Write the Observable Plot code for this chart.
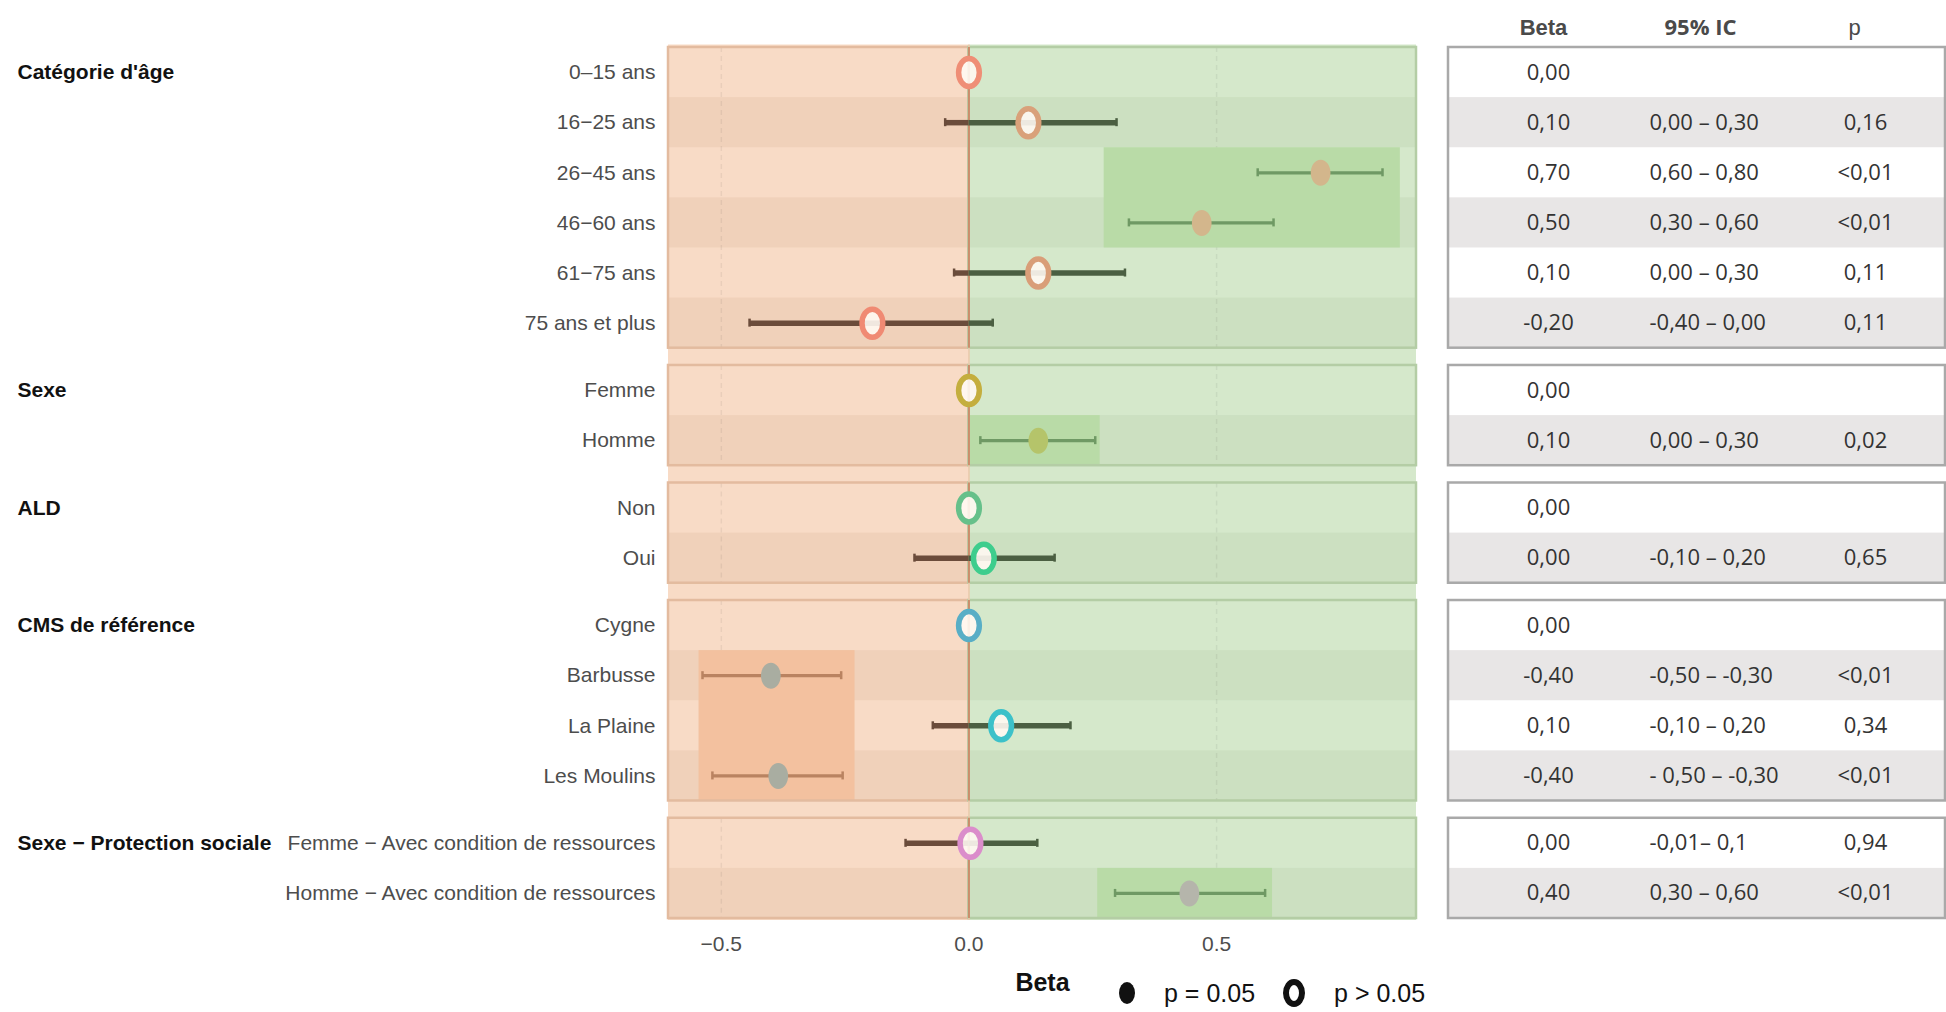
<!DOCTYPE html>
<html><head><meta charset="utf-8">
<script src="https://cdn.jsdelivr.net/npm/d3@7"></script>
<script src="https://cdn.jsdelivr.net/npm/@observablehq/plot@0.6"></script>
<style>
body{margin:0;background:#fff;}
#wrap{position:relative;width:1946px;height:1012px;overflow:hidden;font-family:"Liberation Sans",Arial,sans-serif;}
#chart{position:absolute;left:0;top:0;}
#table{position:absolute;left:1440px;top:0;}
#legend{position:absolute;left:1112px;top:978px;height:30px;display:flex;align-items:center;font-size:25px;color:#111;font-family:"Liberation Sans",Arial,sans-serif;}
#legend svg{display:block}
</style></head><body><div id="wrap"><div id="chart"></div><div id="table"></div><div id="legend"></div></div>
<script>
// ---------- DATA ----------
const groups = ["Catégorie d'âge", "Sexe", "ALD", "CMS de référence", "Sexe − Protection sociale"];
const rowLabels = ["0–15 ans", "16−25 ans", "26−45 ans", "46−60 ans", "61−75 ans", "75 ans et plus",
  "Femme", "Homme", "Non", "Oui", "Cygne", "Barbusse", "La Plaine", "Les Moulins",
  "Femme − Avec condition de ressources", "Homme − Avec condition de ressources"];
const rowGroup = [0,0,0,0,0,0, 1,1, 2,2, 3,3,3,3, 4,4];
const beta   = [0, 0.12, 0.71, 0.47, 0.14, -0.195, 0, 0.14, 0, 0.03, 0, -0.40, 0.065, -0.385, 0.003, 0.445];
const ciLow  = [null, -0.048, 0.583, 0.323, -0.03, -0.443, null, 0.023, null, -0.11, null, -0.538, -0.073, -0.518, -0.128, 0.295];
const ciHigh = [null, 0.298, 0.835, 0.615, 0.315, 0.048, null, 0.255, null, 0.173, null, -0.258, 0.205, -0.255, 0.138, 0.598];
const tableColumns = ["Beta", "95% IC", "p"];
const tableBeta = ["0,00","0,10","0,70","0,50","0,10","-0,20","0,00","0,10","0,00","0,00","0,00","-0,40","0,10","-0,40","0,00","0,40"];
const tableIC = ["","0,00 – 0,30","0,60 – 0,80","0,30 – 0,60","0,00 – 0,30","-0,40 – 0,00","","0,00 – 0,30","","-0,10 – 0,20","","-0,50 – -0,30","-0,10 – 0,20","- 0,50 – -0,30","-0,01– 0,1","0,30 – 0,60"];
const tableP = ["","0,16","<0,01","<0,01","0,11","0,11","","0,02","","0,65","","<0,01","0,34","<0,01","0,94","<0,01"];
// highlighted zones (row index range, beta range)
const hlFrom = [2, 7, 11, 15];
const hlTo   = [3, 7, 13, 15];
const hlLow  = [0.273, 0.003, -0.545, 0.26];
const hlHigh = [0.871, 0.265, -0.23, 0.613];
const xTicks = [-0.5, 0, 0.5];
const legendLabels = ["p = 0.05", "p > 0.05"];

// ---------- STYLE ----------
const pointColors = ["#EF8E76","#D9A17A","#D3B68C","#D3B68C","#D99E78","#F08A73","#C4AE3E","#B5C46A",
  "#66C08A","#3ECD8D","#58AEC6","#A9ADA1","#3CC1C9","#A9ADA1","#DB8DCB","#B5B5AB"];
const GAP = 0.345;

// ---------- BUILD ----------
const groupStart = groups.map((g, k) => rowGroup.indexOf(k));
const rows = rowLabels.map((label, i) => {
  const g = rowGroup[i], p = tableP[i];
  const sig = p !== "" && (p.startsWith("<") || parseFloat(p.replace(",", ".")) <= 0.05);
  return {i, label, g, pos: i + g * GAP, local: i - groupStart[g], beta: beta[i], lo: ciLow[i], hi: ciHigh[i], sig,
          color: pointColors[i], tb: tableBeta[i], tic: tableIC[i], tp: tableP[i]};
});
const L = rows[rows.length - 1].pos;
const yDomain = [-0.5, L + 0.5];
const panels = groups.map((name, k) => {
  const rs = rows.filter(r => r.g === k);
  return {name, k, top: rs[0].pos - 0.5, bottom: rs[rs.length - 1].pos + 0.5, first: rs[0].pos};
});
const lows = ciLow.filter(v => v != null), highs = ciHigh.filter(v => v != null);
const xmin = d3.min(lows), xmax = d3.max(highs), pad = 0.05 * (xmax - xmin);
const X0 = xmin - pad, X1 = xmax + pad;
const sides = [
  {x1: X0, x2: 0, bg: "#F8DBC6", stripe: "#F0D1BA", border: "#E3BB9F", hl: "#F3C19F", ci: "#6B4C3B", ciSig: "#B98361"},
  {x1: 0, x2: X1, bg: "#D5E8CB", stripe: "#CCE0C1", border: "#B4CDA5", hl: "#B9DBA7", ci: "#4B5F42", ciSig: "#6F9964"}
];
const sideOf = v => v < 0 ? sides[0] : sides[1];

const stripes = rows.filter(r => r.local % 2 === 1).flatMap(r => sides.map(s => ({...r, s})));
const panelSides = panels.flatMap(p => sides.map(s => ({...p, s})));
const grid = panels.flatMap(p => [-0.5, 0.5].map(x => ({...p, x})));
const highlights = hlFrom.map((f, j) => ({y1: rows[f].pos - 0.5, y2: rows[hlTo[j]].pos + 0.5, x1: hlLow[j], x2: hlHigh[j]}));
const ciRows = rows.filter(r => r.lo != null);
const segs = [];
ciRows.forEach(r => {
  if (r.lo < 0) segs.push({...r, a: r.lo, b: Math.min(r.hi, 0), s: sides[0]});
  if (r.hi > 0) segs.push({...r, a: Math.max(r.lo, 0), b: r.hi, s: sides[1]});
});
const caps = ciRows.flatMap(r => [{...r, x: r.lo}, {...r, x: r.hi}]);

function ellipse(ratio) {
  return {draw(ctx, size) {
    const ry = Math.sqrt(size / Math.PI), rx = ry * ratio, k = 0.5523;
    ctx.moveTo(rx, 0);
    ctx.bezierCurveTo(rx, k * ry, k * rx, ry, 0, ry);
    ctx.bezierCurveTo(-k * rx, ry, -rx, k * ry, -rx, 0);
    ctx.bezierCurveTo(-rx, -k * ry, -k * rx, -ry, 0, -ry);
    ctx.bezierCurveTo(k * rx, -ry, rx, -k * ry, rx, 0);
    ctx.closePath();
  }};
}

const chart = Plot.plot({
  width: 1440, height: 1012,
  marginLeft: 668, marginRight: 24, marginTop: 47, marginBottom: 94,
  style: {fontFamily: "'Liberation Sans', Arial, sans-serif", background: "transparent"},
  x: {domain: [X0, X1], axis: null},
  y: {domain: yDomain, reverse: true, axis: null},
  marks: [
    Plot.rect(sides, {x1: "x1", x2: "x2", y1: yDomain[0] - 0.05, y2: yDomain[1] + 0.04, fill: d => d.bg}),
    Plot.rect(stripes, {x1: d => d.s.x1, x2: d => d.s.x2, y1: d => d.pos - 0.5, y2: d => d.pos + 0.5, fill: d => d.s.stripe}),
    Plot.ruleX(grid, {x: "x", y1: "top", y2: "bottom", stroke: "#000", strokeOpacity: 0.06, strokeWidth: 1.5, strokeDasharray: "5,4"}),
    Plot.rect(highlights, {x1: "x1", x2: "x2", y1: "y1", y2: "y2", fill: d => sideOf(d.x2 <= 0 ? -1 : 1).hl}),
    Plot.rect(panelSides, {x1: d => d.s.x1, x2: d => d.s.x2, y1: "top", y2: "bottom", fill: "none", stroke: d => d.s.border, strokeWidth: 2.5}),
    Plot.ruleX([0], {y1: yDomain[0] - 0.05, y2: yDomain[1] + 0.04, stroke: "#EEC6A8", strokeWidth: 1.5}),
    Plot.ruleX(panels, {x: 0, y1: "top", y2: "bottom", stroke: "#C98E6C", strokeWidth: 2}),
    Plot.ruleY(segs, {y: "pos", x1: "a", x2: "b", stroke: d => d.sig ? d.s.ciSig : d.s.ci, strokeWidth: d => d.sig ? 3.2 : 5.5}),
    Plot.ruleX(caps, {x: "x", y1: d => d.pos - 0.08, y2: d => d.pos + 0.08, stroke: d => d.sig ? sideOf(d.x).ciSig : sideOf(d.x).ci, strokeWidth: 2.5}),
    Plot.dot(rows.filter(r => !r.sig), {x: "beta", y: "pos", r: 14, symbol: ellipse(0.74), stroke: "color", strokeWidth: 5.5, fill: "#FFF8F2", fillOpacity: 0.9}),
    Plot.dot(rows.filter(r => r.sig), {x: "beta", y: "pos", r: 13, symbol: ellipse(0.76), fill: "color", stroke: "none"}),
    Plot.text(rows, {y: "pos", text: "label", frameAnchor: "left", textAnchor: "end", dx: -13, fontSize: 21, fill: "#4D4D4D"}),
    Plot.text(panels, {y: "first", text: "name", frameAnchor: "left", textAnchor: "start", dx: -651, fontSize: 21, fontWeight: "bold", fill: "#111"}),
    Plot.axisX({ticks: xTicks, tickFormat: d3.format(".1f"), tickSize: 0, tickPadding: 18, fontSize: 21, color: "#4D4D4D", label: null}),
    Plot.text(["Beta"], {frameAnchor: "bottom", dy: 72, fontSize: 25, fontWeight: "bold", fill: "#111"})
  ]
});
document.getElementById("chart").append(chart);

// ---------- TABLE ----------
const tfont = "'Open Sans', 'Liberation Sans', sans-serif";
const headerDx = [95, 252, 406];
const table = Plot.plot({
  width: 506, height: 1012,
  marginLeft: 8, marginRight: 0, marginTop: 47, marginBottom: 94,
  style: {fontFamily: tfont, background: "transparent"},
  x: {domain: [0, 1], range: [8, 505], axis: null},
  y: {domain: yDomain, reverse: true, axis: null},
  marks: [
    Plot.rect(panels, {x1: 0, x2: 1, y1: "top", y2: "bottom", fill: "#FFFFFF"}),
    Plot.rect(rows.filter(r => r.local % 2 === 1), {x1: 0, x2: 1, y1: d => d.pos - 0.5, y2: d => d.pos + 0.5, fill: "#E8E6E6"}),
    Plot.rect(panels, {x1: 0, x2: 1, y1: "top", y2: "bottom", fill: "none", stroke: "#A9A9A9", strokeWidth: 2.5}),
    Plot.text(rows, {y: "pos", text: "tb", frameAnchor: "left", textAnchor: "middle", dx: 100, fontSize: 22, fill: "#333"}),
    Plot.text(rows, {y: "pos", text: "tic", frameAnchor: "left", textAnchor: "start", dx: 201, fontSize: 22, fill: "#333"}),
    Plot.text(rows, {y: "pos", text: "tp", frameAnchor: "left", textAnchor: "middle", dx: 417, fontSize: 22, fill: "#333"}),
    ...tableColumns.map((c, j) => Plot.text([c], {frameAnchor: "top-left", dx: headerDx[j], dy: -28, fontSize: 22,
      fill: "#4a4a4a", fontWeight: j === 2 ? "normal" : "bold", textAnchor: "middle",
      fontFamily: j === 1 ? tfont : "'Liberation Sans', Arial, sans-serif"}))
  ]
});
document.getElementById("table").append(table);

// ---------- LEGEND ----------
const leg = document.getElementById("legend");
leg.innerHTML = `
<svg width="18" height="26" style="margin-left:6px"><ellipse cx="9" cy="13" rx="8" ry="11" fill="#111"/></svg>
<span style="margin-left:28px">${legendLabels[0]}</span>
<svg width="24" height="30" style="margin-left:27px"><ellipse cx="12" cy="15" rx="8" ry="11" fill="none" stroke="#111" stroke-width="6"/></svg>
<span style="margin-left:28px">${legendLabels[1]}</span>`;
</script>
</body></html>
